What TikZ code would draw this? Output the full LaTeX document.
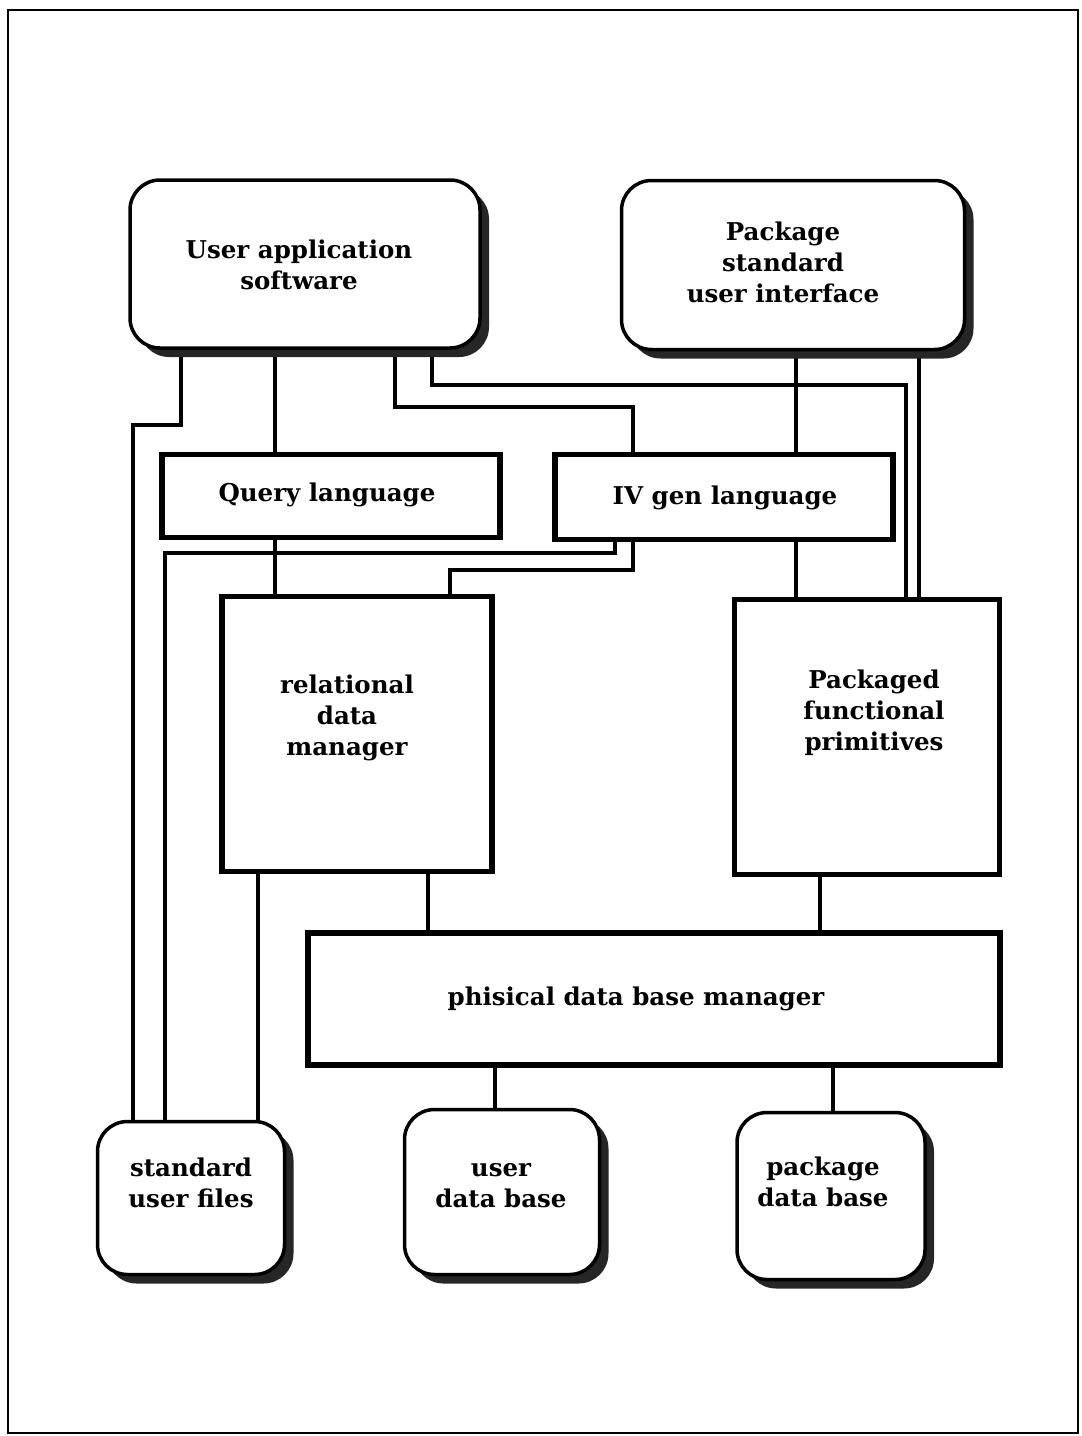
\documentclass[tikz,border=0pt]{standalone}
\usepackage{fontspec}
\setmainfont{DejaVu Serif}
\usetikzlibrary{shadows,backgrounds}
\begin{document}
\begin{tikzpicture}[x=1pt,y=-1pt,
  lbl/.style={font=\bfseries\fontsize{24.5}{31}\selectfont, align=center, inner sep=0pt},
  rbox/.style={draw, line width=3.5pt, rounded corners=30pt, fill=white, inner sep=0pt,
    general shadow={fill=black!85, shadow xshift=9pt, shadow yshift=-9pt}},
  sbox/.style={draw, line width=5.5pt, fill=white, inner sep=0pt},
  txt/.style args={#1/#2:#3}{label={[lbl, xshift=#1pt, yshift=#2pt]center:{#3}}},
  conn/.style={line width=4pt}]
\useasboundingbox (0,0) rectangle (1082,1436);
\draw[line width=1.8pt] (8,10) rectangle (1078,1433);
% nodes
\node[rbox, minimum width=350pt, minimum height=168pt, txt={-6/-1:User application\\software}] (uas) at (305,264) {};
\node[rbox, minimum width=343pt, minimum height=169pt, txt={-10/3:Package\\standard\\user interface}] (psui) at (793,265) {};
\node[sbox, minimum width=338pt, minimum height=83pt, txt={-4/1:Query language}] (ql) at (331,496) {};
\node[sbox, minimum width=338pt, minimum height=85pt, txt={1/-1:IV gen language}] (iv) at (724,497) {};
\node[sbox, minimum width=270pt, minimum height=275pt, txt={-10/16:relational\\data\\manager}] (rdm) at (357,734) {};
\node[sbox, minimum width=265pt, minimum height=275pt, txt={7/24:Packaged\\functional\\primitives}] (pfp) at (867,737) {};
\node[sbox, minimum width=692pt, minimum height=132pt, txt={-18/0:phisical data base manager}] (pdbm) at (654,999) {};
\node[rbox, minimum width=187pt, minimum height=153pt, txt={0/15:standard\\user files}] (suf) at (191,1198) {};
\node[rbox, minimum width=195pt, minimum height=165pt, txt={-1/6:user\\data base}] (udb) at (502,1192) {};
\node[rbox, minimum width=188pt, minimum height=167pt, txt={-8/14:package\\data base}] (pkdb) at (831,1196) {};
% connectors
\begin{pgfonlayer}{background}
\draw[conn] (181,0 |- uas.south) -- (181,425) -- (133,425) -- (133,0 |- suf.north);
\draw[conn] (275,0 |- uas.south) -- (275,0 |- ql.north);
\draw[conn] (395,0 |- uas.south) -- (395,407) -- (633,407) -- (633,0 |- iv.north);
\draw[conn] (432,0 |- uas.south) -- (432,385) -- (906,385) -- (906,0 |- pfp.north);
\draw[conn] (796,0 |- psui.south) -- (796,0 |- iv.north);
\draw[conn] (919,0 |- psui.south) -- (919,0 |- pfp.north);
\draw[conn] (275,0 |- ql.south) -- (275,0 |- rdm.north);
\draw[conn] (615,0 |- iv.south) -- (615,553) -- (165,553) -- (165,0 |- suf.north);
\draw[conn] (633,0 |- iv.south) -- (633,570) -- (450,570) -- (450,0 |- rdm.north);
\draw[conn] (796,0 |- iv.south) -- (796,0 |- pfp.north);
\draw[conn] (258,0 |- rdm.south) -- (258,0 |- suf.north);
\draw[conn] (428,0 |- rdm.south) -- (428,0 |- pdbm.north);
\draw[conn] (820,0 |- pfp.south) -- (820,0 |- pdbm.north);
\draw[conn] (495,0 |- pdbm.south) -- (495,0 |- udb.north);
\draw[conn] (833,0 |- pdbm.south) -- (833,0 |- pkdb.north);
\end{pgfonlayer}
\end{tikzpicture}
\end{document}
